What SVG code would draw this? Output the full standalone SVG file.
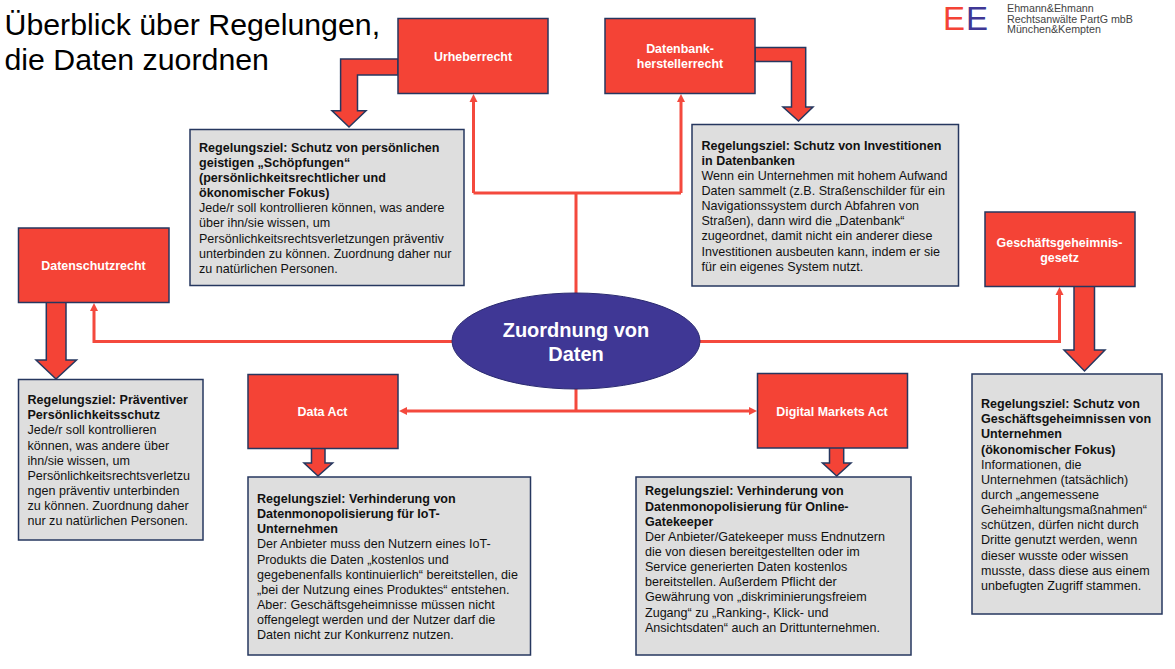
<svg xmlns="http://www.w3.org/2000/svg" width="1175" height="669" viewBox="0 0 1175 669">
<style>
text{font-family:"Liberation Sans",Arial,sans-serif}
.law{fill:#f44336;stroke:#26375f;stroke-width:1.5}
.goal{fill:#dedede;stroke:#26375f;stroke-width:1.5}
.block{fill:#f44336;stroke:#26375f;stroke-width:1.5;stroke-linejoin:miter}
.thin{fill:none;stroke:#f4493d;stroke-width:3}
.head{fill:#f4493d;stroke:none}
.lt{fill:#fff;font-weight:700;font-size:12.45px;text-anchor:middle}
.gt{fill:#111;font-size:12.55px}
.b{font-weight:700}
.title{font-size:30.3px;fill:#000}
.firm{font-size:10.7px;fill:#444}
.mark{font-size:33px}
.ct{fill:#fff;font-weight:700;font-size:20px;text-anchor:middle}
</style>
<rect width="1175" height="669" fill="#fff"/>
<g id="title"><text class="title" x="4.500" y="35">Überblick über Regelungen,</text><text class="title" x="4.500" y="70">die Daten zuordnen</text></g>
<g id="logo">
<text class="mark" x="943" y="30" fill="#f44336">E</text>
<text class="mark" x="966" y="30" fill="#3f3795">E</text>
<text class="firm" x="1007" y="12">Ehmann&amp;Ehmann</text>
<text class="firm" x="1007" y="23">Rechtsanwälte PartG mbB</text>
<text class="firm" x="1007" y="33">München&amp;Kempten</text>
</g>
<g id="connectors">
<path class="thin" d="M576 293V193M473.500 193H681M473.500 193V100M681 193V100"/>
<path class="thin" d="M452 341.500H94V309M700 341.500H1059.500V293"/>
<path class="thin" d="M576 389V411M405 411H751"/>
<path class="head" d="M473.500 94l-4 8h8zM681 94l-4 8h8zM94 303l-4 8h8zM1059.500 287l-4 8h8zM399 411l8-4v8zM757 411l-8-4v8z"/>
<path class="block" d="M398 59H340.600V110.700H332L349 127L366 110.700H357.500V75H398Z"/>
<path class="block" d="M755 47.500H805.700V107H813L798.500 121L783 107H791.500V61.500H755Z"/>
<path class="block" d="M46.300 302V360H36L56 379L76.500 360H66V302Z"/>
<path class="block" d="M1074 286V350H1064L1084.500 371L1105 350H1094.500V286Z"/>
<path class="block" d="M311.500 447V463H304L318 476L332.600 463H325V447Z"/>
<path class="block" d="M829.500 447V463H822.500L836.700 476L851 463H843.700V447Z"/>
</g>
<g id="urheberrecht"><rect class="law" x="398" y="18.500" width="150" height="75"/><text class="lt" x="473" y="61">Urheberrecht</text></g>
<g id="datenbank"><rect class="law" x="605" y="18.500" width="150" height="75"/><text class="lt" x="680" y="53">Datenbank-</text><text class="lt" x="680" y="68">herstellerrecht</text></g>
<g id="datenschutz"><rect class="law" x="18.500" y="228" width="150.500" height="74.500"/><text class="lt" x="93.500" y="270">Datenschutzrecht</text></g>
<g id="geschaeft"><rect class="law" x="985" y="212" width="150" height="74.500"/><text class="lt" x="1059.500" y="247">Geschäftsgeheimnis-</text><text class="lt" x="1059.500" y="262">gesetz</text></g>
<g id="dataact"><rect class="law" x="248" y="374.500" width="150" height="74"/><text class="lt" x="322.500" y="416">Data Act</text></g>
<g id="dma"><rect class="law" x="757.500" y="373.500" width="150" height="74.500"/><text class="lt" x="832" y="416">Digital Markets Act</text></g>
<g id="center"><ellipse cx="576" cy="341" rx="124" ry="48" fill="#3f3795" stroke="#2a2a70" stroke-width="1"/><text class="ct" x="576" y="337">Zuordnung von</text><text class="ct" x="576" y="361">Daten</text></g>
<g id="goal-urheber"><rect class="goal" x="190" y="129.500" width="274" height="156"/>
<text class="gt"><tspan class="b" x="199" y="152">Regelungsziel: Schutz von persönlichen</tspan><tspan class="b" x="199" y="167">geistigen „Schöpfungen“</tspan><tspan class="b" x="199" y="182">(persönlichkeitsrechtlicher und</tspan><tspan class="b" x="199" y="197">ökonomischer Fokus)</tspan><tspan x="199" y="212">Jede/r soll kontrollieren können, was andere</tspan><tspan x="199" y="227">über ihn/sie wissen, um</tspan><tspan x="199" y="243">Persönlichkeitsrechtsverletzungen präventiv</tspan><tspan x="199" y="258">unterbinden zu können. Zuordnung daher nur</tspan><tspan x="199" y="273">zu natürlichen Personen.</tspan></text></g>
<g id="goal-datenbank"><rect class="goal" x="692" y="124.500" width="266.500" height="161.500"/>
<text class="gt"><tspan class="b" x="701.500" y="150">Regelungsziel: Schutz von Investitionen</tspan><tspan class="b" x="701.500" y="165">in Datenbanken</tspan><tspan x="701.500" y="180">Wenn ein Unternehmen mit hohem Aufwand</tspan><tspan x="701.500" y="195">Daten sammelt (z.B. Straßenschilder für ein</tspan><tspan x="701.500" y="210">Navigationssystem durch Abfahren von</tspan><tspan x="701.500" y="225">Straßen), dann wird die „Datenbank“</tspan><tspan x="701.500" y="240">zugeordnet, damit nicht ein anderer diese</tspan><tspan x="701.500" y="256">Investitionen ausbeuten kann, indem er sie</tspan><tspan x="701.500" y="271">für ein eigenes System nutzt.</tspan></text></g>
<g id="goal-datenschutz"><rect class="goal" x="18.500" y="379.500" width="184.500" height="160.500"/>
<text class="gt"><tspan class="b" x="27.500" y="404">Regelungsziel: Präventiver</tspan><tspan class="b" x="27.500" y="419">Persönlichkeitsschutz</tspan><tspan x="27.500" y="434">Jede/r soll kontrollieren</tspan><tspan x="27.500" y="450">können, was andere über</tspan><tspan x="27.500" y="465">ihn/sie wissen, um</tspan><tspan x="27.500" y="480">Persönlichkeitsrechtsverletzu</tspan><tspan x="27.500" y="495">ngen präventiv unterbinden</tspan><tspan x="27.500" y="510">zu können. Zuordnung daher</tspan><tspan x="27.500" y="525">nur zu natürlichen Personen.</tspan></text></g>
<g id="goal-dataact"><rect class="goal" x="248" y="477" width="282.500" height="178"/>
<text class="gt"><tspan class="b" x="257" y="503">Regelungsziel: Verhinderung von</tspan><tspan class="b" x="257" y="518">Datenmonopolisierung für IoT-</tspan><tspan class="b" x="257" y="533">Unternehmen</tspan><tspan x="257" y="548">Der Anbieter muss den Nutzern eines IoT-</tspan><tspan x="257" y="564">Produkts die Daten „kostenlos und</tspan><tspan x="257" y="579">gegebenenfalls kontinuierlich“ bereitstellen, die</tspan><tspan x="257" y="594">„bei der Nutzung eines Produktes“ entstehen.</tspan><tspan x="257" y="609">Aber: Geschäftsgeheimnisse müssen nicht</tspan><tspan x="257" y="624">offengelegt werden und der Nutzer darf die</tspan><tspan x="257" y="639">Daten nicht zur Konkurrenz nutzen.</tspan></text></g>
<g id="goal-dma"><rect class="goal" x="636" y="477" width="275" height="178"/>
<text class="gt"><tspan class="b" x="645" y="495">Regelungsziel: Verhinderung von</tspan><tspan class="b" x="645" y="511">Datenmonopolisierung für Online-</tspan><tspan class="b" x="645" y="526">Gatekeeper</tspan><tspan x="645" y="541">Der Anbieter/Gatekeeper muss Endnutzern</tspan><tspan x="645" y="556">die von diesen bereitgestellten oder im</tspan><tspan x="645" y="571">Service generierten Daten kostenlos</tspan><tspan x="645" y="586">bereitstellen. Außerdem Pflicht der</tspan><tspan x="645" y="601">Gewährung von „diskriminierungsfreiem</tspan><tspan x="645" y="617">Zugang“ zu „Ranking-, Klick- und</tspan><tspan x="645" y="632">Ansichtsdaten“ auch an Drittunternehmen.</tspan></text></g>
<g id="goal-geschaeft"><rect class="goal" x="972" y="374" width="190" height="240"/>
<text class="gt"><tspan class="b" x="981" y="408">Regelungsziel: Schutz von</tspan><tspan class="b" x="981" y="423">Geschäftsgeheimnissen von</tspan><tspan class="b" x="981" y="438">Unternehmen</tspan><tspan class="b" x="981" y="454">(ökonomischer Fokus)</tspan><tspan x="981" y="469">Informationen, die</tspan><tspan x="981" y="484">Unternehmen (tatsächlich)</tspan><tspan x="981" y="499">durch „angemessene</tspan><tspan x="981" y="514">Geheimhaltungsmaßnahmen“</tspan><tspan x="981" y="529">schützen, dürfen nicht durch</tspan><tspan x="981" y="544">Dritte genutzt werden, wenn</tspan><tspan x="981" y="560">dieser wusste oder wissen</tspan><tspan x="981" y="575">musste, dass diese aus einem</tspan><tspan x="981" y="590">unbefugten Zugriff stammen.</tspan></text></g>
</svg>
